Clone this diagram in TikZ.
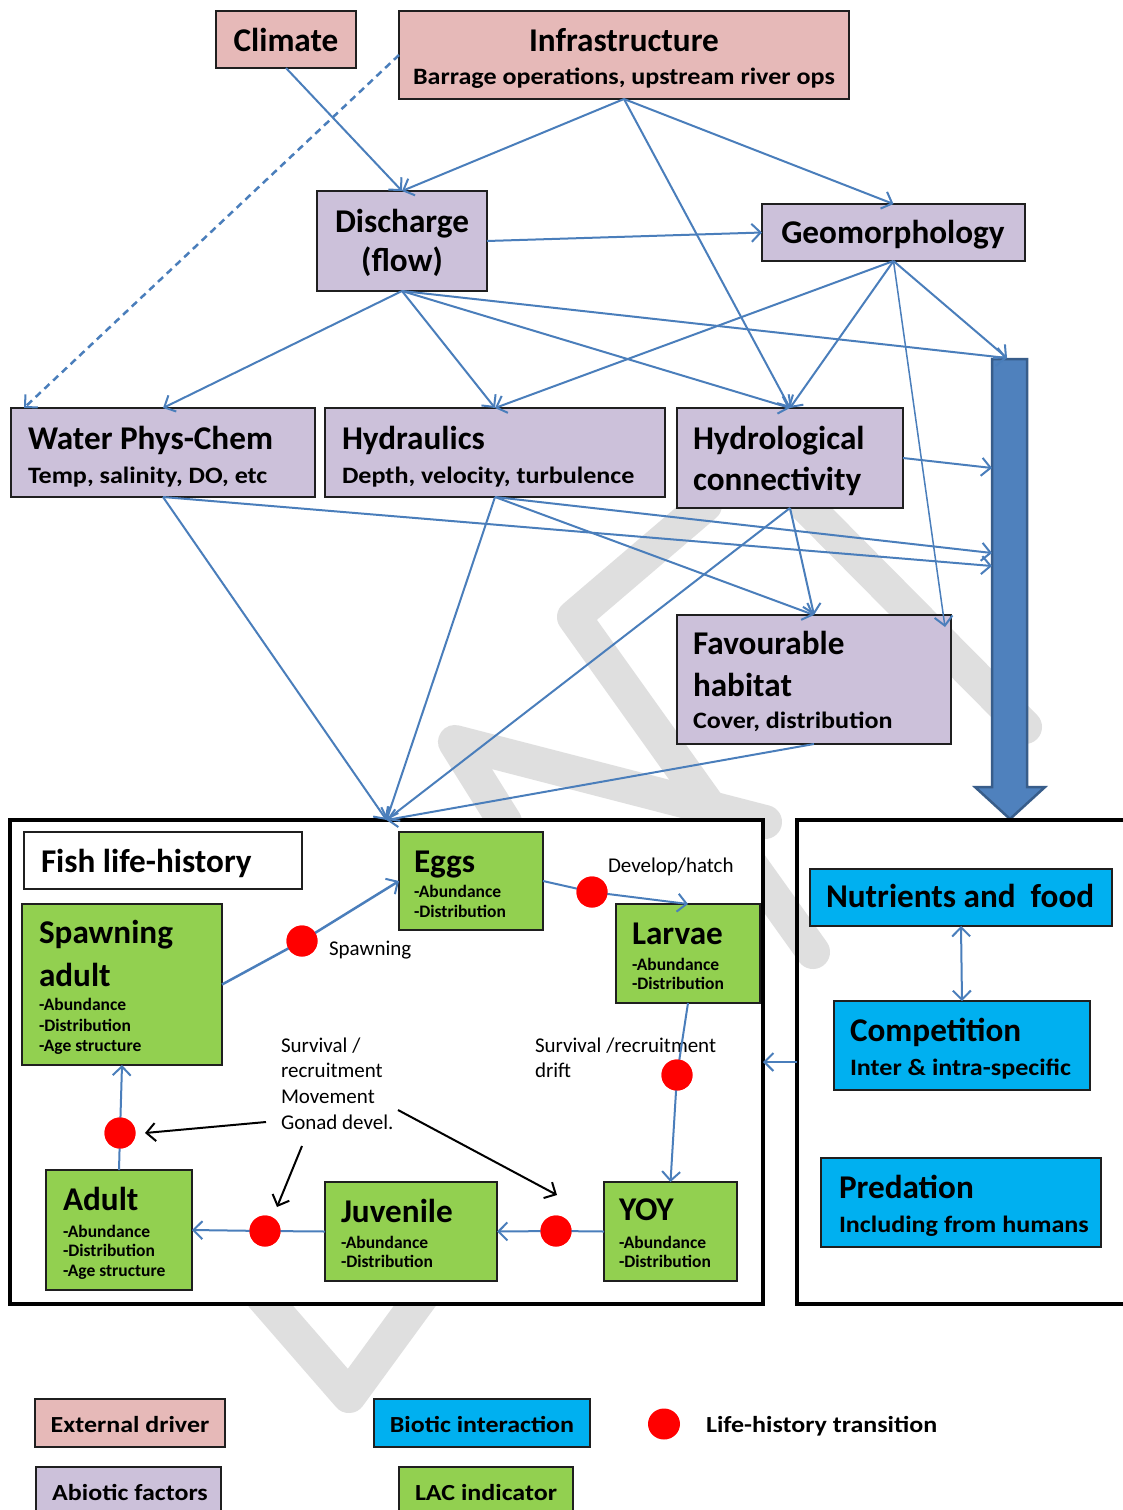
\documentclass[tikz,border=0pt]{standalone}
\usepackage{fontspec}
\usepackage{graphicx}
\setmainfont{Carlito}
\usetikzlibrary{arrows.meta,calc,shapes.geometric}
\definecolor{pinkbox}{HTML}{E6B9B8}
\definecolor{lilacbox}{HTML}{CCC1DA}
\definecolor{greenbox}{HTML}{92D050}
\definecolor{cyanbox}{HTML}{00B0F0}
\definecolor{lineblue}{HTML}{4A7EBB}
\definecolor{arrowfill}{HTML}{4F81BD}
\definecolor{arrowedge}{HTML}{385D8A}
\definecolor{wmgrey}{HTML}{DFDFDF}
\newcommand{\fttl}{\fontsize{33.2}{36}\selectfont\bfseries}
\newcommand{\fsub}{\fontsize{23.5}{27}\selectfont\bfseries}
\newcommand{\fsml}{\fontsize{17.5}{20}\selectfont\bfseries}
\newcommand{\freg}{\fontsize{21}{24}\selectfont}
\newcommand{\fleg}{\fontsize{23}{27}\selectfont\bfseries}
\newcommand{\wide}[1]{\scalebox{1.11}[1]{#1}}
\tikzset{
  bx/.style={draw=black!88, line width=2.3pt, anchor=north west, inner sep=0pt, outer sep=0pt},
  tx/.style={inner sep=0pt, outer sep=0pt, text=black},
  conn/.style={draw=lineblue, line width=2pt, -{Straight Barb[length=9pt,width=18pt,line width=2pt]}},
  blk/.style={draw=black, line width=2pt, -{Straight Barb[length=9pt,width=18pt,line width=2pt]}},
  dot/.style={circle, fill=red, draw=none, minimum size=31pt, inner sep=0pt},
  wm/.style={draw=wmgrey, line width=34pt, line cap=round, line join=round},
}
\begin{document}
\begin{tikzpicture}[x=1pt,y=-1pt]
\useasboundingbox (0,0) rectangle (1123,1510);
\clip (0,0) rectangle (1123,1510);
\fill[white] (0,0) rectangle (1123,1510);
% watermark
\draw[wm] (705,505) -- (574,617) -- (813,952);
\draw[wm] (805,505) -- (1025,727);
\draw[wm] (505,822) -- (455,742) -- (765,822);
\draw[wm] (262,1296) -- (349,1396) -- (422,1296);

% ---------- top boxes ----------
\node[bx, fill=pinkbox, minimum width=140pt, minimum height=57pt] (clim) at (216,11) {};
\node[tx, font=\fttl, anchor=base] (climT) at (286,51) {Climate};
\node[bx, fill=pinkbox, minimum width=450pt, minimum height=88pt] (infra) at (399,11) {};
\node[tx, font=\fttl, anchor=base] (infraT) at (624,51) {Infrastructure};
\node[tx, font=\fsub, anchor=base] (infraS) at (624,84) {\wide{Barrage operations, upstream river ops}};

\node[bx, fill=lilacbox, minimum width=170pt, minimum height=100pt] (disch) at (317,191) {};
\node[tx, font=\fttl, anchor=base] (dischT) at (402,232) {Discharge};
\node[tx, font=\fttl, anchor=base] (dischS) at (402,271) {(flow)};
\node[bx, fill=lilacbox, minimum width=263pt, minimum height=57pt] (geo) at (762,204) {};
\node[tx, font=\fttl, anchor=base] (geoT) at (893,243) {Geomorphology};

\node[bx, fill=lilacbox, minimum width=304pt, minimum height=89pt] (water) at (11,408) {};
\node[tx, font=\fttl, anchor=base west] (waterT) at (28,449) {Water Phys-Chem};
\node[tx, font=\fsub, anchor=base west] (waterS) at (28,483) {\wide{Temp, salinity, DO, etc}};
\node[bx, fill=lilacbox, minimum width=340pt, minimum height=89pt] (hydr) at (325,408) {};
\node[tx, font=\fttl, anchor=base west] (hydrT) at (342,449) {Hydraulics};
\node[tx, font=\fsub, anchor=base west] (hydrS) at (342,483) {\wide{Depth, velocity, turbulence}};
\node[bx, fill=lilacbox, minimum width=226pt, minimum height=100pt] (hydro) at (677,408) {};
\node[tx, font=\fttl, anchor=base west] (hydroT) at (693,449) {Hydrological};
\node[tx, font=\fttl, anchor=base west] (hydroS) at (693,490) {connectivity};
\node[bx, fill=lilacbox, minimum width=274pt, minimum height=129pt] (fav) at (677,615) {};
\node[tx, font=\fttl, anchor=base west] (favT) at (693,654) {Favourable};
\node[tx, font=\fttl, anchor=base west] (favT2) at (693,696) {habitat};
\node[tx, font=\fsub, anchor=base west] (favS) at (693,728) {\wide{Cover, distribution}};

% big arrow
\coordinate (bigtop) at (1007,358);
\coordinate (bigA) at (992,468);
\coordinate (bigB) at (992,553);
\coordinate (bigC) at (992,566);
\filldraw[fill=arrowfill, draw=arrowedge, line width=2.5pt, line join=miter]
  (992,359) -- (1027,359) -- (1027,787) -- (1045,787) -- (1010,819) -- (975,787) -- (992,787) -- cycle;

% ---------- fish life-history ----------
\node[bx, fill=white, line width=4pt, draw=black, minimum width=753pt, minimum height=484pt] (fish) at (10,820) {};
\node[bx, draw=black, line width=4pt, minimum width=340pt, minimum height=484pt] (rbox) at (797,820) {};

\node[bx, fill=white, minimum width=278pt, minimum height=57pt] (lab) at (24,832) {};
\node[tx, font=\fttl, anchor=base west] (labT) at (41,872) {Fish life-history};

\node[bx, fill=greenbox, minimum width=144pt, minimum height=98pt] (eggs) at (399,832) {};
\node[tx, font=\fttl, anchor=base west] (eggsT) at (414,872) {Eggs};
\node[tx, font=\fsml, anchor=base west] (eggsA) at (414,897) {-Abundance};
\node[tx, font=\fsml, anchor=base west] (eggsD) at (414,917) {-Distribution};

\node[bx, fill=greenbox, minimum width=200pt, minimum height=161pt] (spawn) at (22,904) {};
\node[tx, font=\fttl, anchor=base west] (spawnT) at (39,943) {Spawning};
\node[tx, font=\fttl, anchor=base west] (spawnT2) at (39,986) {adult};
\node[tx, font=\fsml, anchor=base west] (spawnA) at (39,1010) {-Abundance};
\node[tx, font=\fsml, anchor=base west] (spawnD) at (39,1031) {-Distribution};
\node[tx, font=\fsml, anchor=base west] (spawnG) at (39,1051) {-Age structure};

\node[bx, fill=greenbox, minimum width=144pt, minimum height=99pt] (larv) at (616,904) {};
\node[tx, font=\fttl, anchor=base west] (larvT) at (632,944) {Larvae};
\node[tx, font=\fsml, anchor=base west] (larvA) at (632,970) {-Abundance};
\node[tx, font=\fsml, anchor=base west] (larvD) at (632,989) {-Distribution};

\node[bx, fill=greenbox, minimum width=146pt, minimum height=120pt] (adult) at (46,1170) {};
\node[tx, font=\fttl, anchor=base west] (adultT) at (63,1210) {Adult};
\node[tx, font=\fsml, anchor=base west] (adultA) at (63,1237) {-Abundance};
\node[tx, font=\fsml, anchor=base west] (adultD) at (63,1256) {-Distribution};
\node[tx, font=\fsml, anchor=base west] (adultG) at (63,1276) {-Age structure};

\node[bx, fill=greenbox, minimum width=172pt, minimum height=99pt] (juv) at (325,1182) {};
\node[tx, font=\fttl, anchor=base west] (juvT) at (341,1222) {Juvenile};
\node[tx, font=\fsml, anchor=base west] (juvA) at (341,1248) {-Abundance};
\node[tx, font=\fsml, anchor=base west] (juvD) at (341,1267) {-Distribution};

\node[bx, fill=greenbox, minimum width=133pt, minimum height=99pt] (yoy) at (604,1182) {};
\node[tx, font=\fttl, anchor=base west] (yoyT) at (619,1220) {YOY};
\node[tx, font=\fsml, anchor=base west] (yoyA) at (619,1248) {-Abundance};
\node[tx, font=\fsml, anchor=base west] (yoyD) at (619,1267) {-Distribution};

% right box contents
\node[bx, fill=cyanbox, minimum width=302pt, minimum height=57pt] (nutr) at (810,869) {};
\node[tx, font=\fttl, anchor=base west] (nutrT) at (826,907) {Nutrients and\ \ food};
\node[bx, fill=cyanbox, minimum width=256pt, minimum height=89pt] (comp) at (834,1001) {};
\node[tx, font=\fttl, anchor=base west] (compT) at (850,1041) {Competition};
\node[tx, font=\fsub, anchor=base west] (compS) at (850,1075) {\wide{Inter \& intra-specific}};
\node[bx, fill=cyanbox, minimum width=280pt, minimum height=89pt] (pred) at (821,1158) {};
\node[tx, font=\fttl, anchor=base west] (predT) at (839,1198) {Predation};
\node[tx, font=\fsub, anchor=base west] (predS) at (839,1232) {\wide{Including from humans}};

% transition dots
\node[dot] (d1) at (302,941) {};
\node[dot] (d2) at (592,892) {};
\node[dot] (d3) at (677,1075) {};
\node[dot] (d4) at (556,1231) {};
\node[dot] (d5) at (265,1231) {};
\node[dot] (d6) at (120,1133) {};

% labels
\node[tx, font=\freg, anchor=base west] (lspawn) at (329,955) {Spawning};
\node[tx, font=\freg, anchor=base west] (ldev) at (608,872) {Develop/hatch};
\node[tx, font=\freg, anchor=base west] (ls1) at (281,1052) {Survival /};
\node[tx, font=\freg, anchor=base west] (ls2) at (281,1077) {recruitment};
\node[tx, font=\freg, anchor=base west] (ls3) at (281,1103) {Movement};
\node[tx, font=\freg, anchor=base west] (ls4) at (281,1129) {Gonad devel.};
\node[tx, font=\freg, anchor=base west] (lr1) at (535,1052) {Survival /recruitment};
\node[tx, font=\freg, anchor=base west] (lr2) at (535,1077) {drift};

% ---------- connectors (top) ----------
\draw[conn] (clim.south) -- (disch.north);
\draw[conn, line width=2.5pt, dash pattern=on 7pt off 5pt] (infra.west) -- ($(water.north west)+(13,0)$);
\draw[conn] (infra.south) -- (disch.north);
\draw[conn] (infra.south) -- (geo.north);
\draw[conn] (infra.south) -- (hydro.north);
\draw[conn] (disch.east) -- (geo.west);
\draw[conn] (disch.south) -- (water.north);
\draw[conn] (disch.south) -- (hydr.north);
\draw[conn] (disch.south) -- (hydro.north);
\draw[conn] (disch.south) -- (bigtop);
\draw[conn] (geo.south) -- (hydr.north);
\draw[conn] (geo.south) -- (hydro.north);
\draw[conn, line width=1.5pt] (geo.south) -- ($(fav.north east)+(-6,12)$);
\draw[conn] (geo.south) -- (bigtop);
\draw[conn] (hydro.east) -- (bigA);
\draw[conn] (hydr.south) -- (bigB);
\draw[conn] (water.south) -- (bigC);
\draw[conn] (hydr.south) -- (fav.north);
\draw[conn] (hydro.south) -- (fav.north);
\draw[conn] (water.south) -- (fish.north);
\draw[conn] (hydr.south) -- (fish.north);
\draw[conn] (hydro.south) -- (fish.north);
\draw[conn] (fav.south) -- (fish.north);

% ---------- connectors (life history) ----------
\draw[conn, line width=2.5pt] (spawn.east) -- (d1.center) -- (eggs.west);
\draw[conn] (eggs.east) -- (d2.center) -- (larv.north);
\draw[conn] (larv.south) -- (d3.center) -- (yoy.north);
\draw[conn] (yoy.west) -- (d4.center) -- (juv.east);
\draw[conn] (juv.west) -- (d5.center) -- (adult.east);
\draw[conn] (adult.north) -- (d6.center) -- (spawn.south);
\node[dot] at (d1) {};
\node[dot] at (d2) {};
\node[dot] at (d3) {};
\node[dot] at (d4) {};
\node[dot] at (d5) {};
\node[dot] at (d6) {};
\coordinate (b1s) at (266,1122);
\coordinate (b1e) at (145,1133);
\coordinate (b2s) at (302,1146);
\coordinate (b2e) at (277,1207);
\coordinate (b3s) at (398,1110);
\coordinate (b3e) at (557,1195);
\draw[blk] (b1s) -- (b1e);
\draw[blk] (b2s) -- (b2e);
\draw[blk] (b3s) -- (b3e);
\draw[conn, {Straight Barb[length=9pt,width=18pt,line width=2pt]}-{Straight Barb[length=9pt,width=18pt,line width=2pt]}] (nutr.south) -- (comp.north);
\draw[conn] (rbox.west) -- (fish.east);

% ---------- legend ----------
\node[bx, fill=pinkbox, minimum width=190pt, minimum height=48pt] (lg1) at (35,1399) {};
\node[tx, font=\fleg, anchor=base] (lg1T) at (130,1432) {\scalebox{1.13}[1]{External driver}};
\node[bx, fill=cyanbox, minimum width=216pt, minimum height=48pt] (lg2) at (374,1399) {};
\node[tx, font=\fleg, anchor=base] (lg2T) at (482,1432) {\scalebox{1.13}[1]{Biotic interaction}};
\node[ellipse, fill=red, minimum width=32pt, minimum height=31pt, inner sep=0pt] (lg3) at (664,1424) {};
\node[tx, font=\fleg, anchor=base west] (lg3T) at (706,1432) {\scalebox{1.13}[1]{Life-history transition}};
\node[bx, fill=lilacbox, minimum width=185pt, minimum height=50pt] (lg4) at (36,1467) {};
\node[tx, font=\fleg, anchor=base] (lg4T) at (130,1500) {\scalebox{1.13}[1]{Abiotic factors}};
\node[bx, fill=greenbox, minimum width=174pt, minimum height=50pt] (lg5) at (399,1467) {};
\node[tx, font=\fleg, anchor=base] (lg5T) at (486,1500) {\scalebox{1.13}[1]{LAC indicator}};
\end{tikzpicture}
\end{document}
